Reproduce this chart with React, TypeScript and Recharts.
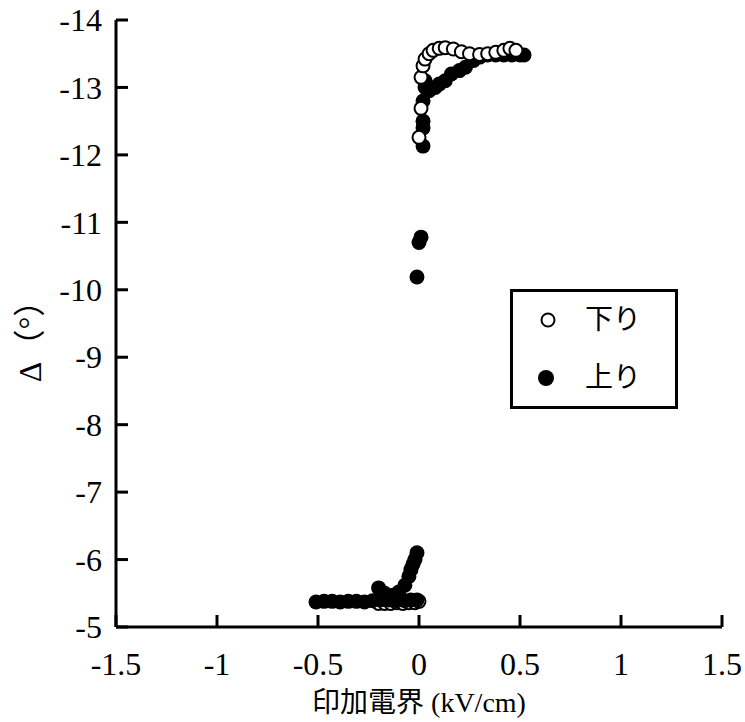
import {
  ScatterChart,
  Scatter,
  XAxis,
  YAxis
} from 'recharts'

// 下り (open circles), lower branch near -5.4
const downLowX = [-0.2, -0.17, -0.14, -0.11, -0.08, -0.05, -0.02, 0.0]
const downLowY = [-5.35, -5.35, -5.35, -5.36, -5.35, -5.36, -5.36, -5.38]

// 下り (open circles), upper branch near -13.5
const downHighX = [0.0, 0.01, 0.01, 0.02, 0.03, 0.05, 0.07, 0.1, 0.13, 0.17, 0.21, 0.25, 0.3, 0.34, 0.38, 0.42, 0.45, 0.48]
const downHighY = [-12.26, -12.69, -13.15, -13.32, -13.42, -13.5, -13.55, -13.58, -13.59, -13.57, -13.53, -13.5, -13.49, -13.5, -13.52, -13.55, -13.58, -13.55]

// 上り (filled circles)
const upX = [
  -0.51, -0.47, -0.43, -0.39, -0.35, -0.31, -0.27, -0.23, -0.19, -0.15, -0.11, -0.07, -0.04, -0.01,
  -0.2, -0.17, -0.13, -0.1,
  -0.07, -0.05, -0.04, -0.03, -0.02, -0.01,
  -0.01, 0.0, 0.01,
  0.02, 0.02, 0.02, 0.02, 0.03, 0.03, 0.05, 0.08, 0.1, 0.13, 0.16, 0.2, 0.23, 0.27, 0.3, 0.34, 0.38, 0.42, 0.46, 0.5, 0.52
]
const upY = [
  -5.37, -5.38, -5.38, -5.37, -5.38, -5.38, -5.37, -5.39, -5.4, -5.4, -5.39, -5.39, -5.4, -5.4,
  -5.58, -5.5, -5.47, -5.52,
  -5.62, -5.75, -5.85, -5.93, -6.0, -6.1,
  -10.19, -10.7, -10.78,
  -12.13, -12.4, -12.5, -12.8, -13.0, -13.1, -12.95, -13.0, -13.05, -13.1, -13.2, -13.25, -13.3, -13.4, -13.45, -13.48, -13.48, -13.48, -13.48, -13.48, -13.48
]

const xTicks = [-1.5, -1, -0.5, 0, 0.5, 1, 1.5]
const yTicks = [-14, -13, -12, -11, -10, -9, -8, -7, -6, -5]

const legendItems = [
  { label: '下り', filled: false },
  { label: '上り', filled: true }
]

const zip = (xs: number[], ys: number[]) => xs.map((x, i) => ({ x, y: ys[i] }))

const downLow = zip(downLowX, downLowY)
const downHigh = zip(downHighX, downHighY)
const up = zip(upX, upY)

const font = '"Liberation Serif", "Noto Sans CJK JP", serif'
const tickFont = 32
const tickLen = 12
const yGap = 14
const xGap = 24

// tick label plus an inward tick mark
const LeftTick = (props: any) => {
  const { x, y, payload } = props
  const axisX = x + yGap
  return (
    <g>
      <line x1={axisX} x2={axisX + tickLen} y1={y} y2={y} stroke="#000" strokeWidth={3} />
      <text x={x} y={y} dy="0.35em" textAnchor="end" fontSize={tickFont} fontFamily={font} fill="#000">
        {payload.value}
      </text>
    </g>
  )
}

const BottomTick = (props: any) => {
  const { x, y, payload } = props
  const axisY = y - xGap
  return (
    <g>
      <line x1={x} x2={x} y1={axisY} y2={axisY - tickLen} stroke="#000" strokeWidth={3} />
      <text x={x} y={y} dy="0.75em" textAnchor="middle" fontSize={tickFont} fontFamily={font} fill="#000">
        {payload.value}
      </text>
    </g>
  )
}

const YLabel = (props: any) => {
  const { viewBox } = props
  const cx = viewBox.x - 26
  const cy = viewBox.y + viewBox.height / 2 + 10
  return (
    <text
      x={cx}
      y={cy}
      transform={`rotate(-90, ${cx}, ${cy})`}
      textAnchor="middle"
      dominantBaseline="central"
      fontSize={32}
      fontFamily={font}
      fill="#000"
    >
      Δ（°）
    </text>
  )
}

const OpenDot = (props: any) => (
  <circle cx={props.cx} cy={props.cy} r={6.5} fill="#fff" stroke="#000" strokeWidth={2} />
)

const FilledDot = (props: any) => (
  <circle cx={props.cx} cy={props.cy} r={7.5} fill="#000" />
)

const LegendBox = () => (
  <div
    style={{
      position: 'absolute',
      left: 510,
      top: 289,
      width: 168,
      height: 120,
      boxSizing: 'border-box',
      border: '3px solid #000',
      background: '#fff',
      fontFamily: font,
      fontSize: 28
    }}
  >
    {legendItems.map((item, i) => (
      <div
        key={item.label}
        style={{ position: 'absolute', left: 0, top: 12 + i * 58, height: 32, display: 'flex', alignItems: 'center' }}
      >
        <svg width={70} height={32}>
          {item.filled ? (
            <circle cx={33} cy={16} r={8} fill="#000" />
          ) : (
            <circle cx={35} cy={16} r={6.5} fill="#fff" stroke="#000" strokeWidth={2} />
          )}
        </svg>
        <span style={{ marginLeft: 2, lineHeight: '32px' }}>{item.label}</span>
      </div>
    ))}
  </div>
)

export default function App() {
  return (
    <div style={{ position: 'absolute', left: 0, top: 0, width: 745, height: 722, background: '#fff' }}>
      <ScatterChart
        width={745}
        height={722}
        margin={{ top: 20, right: 23, left: 56, bottom: 35 }}
      >
        <XAxis
          xAxisId="bottom"
          type="number"
          dataKey="x"
          domain={[-1.5, 1.5]}
          ticks={xTicks}
          stroke="#000"
          strokeWidth={3}
          tickLine={false}
          tickSize={0}
          tickMargin={xGap}
          height={60}
          tick={<BottomTick />}
          label={{
            value: '印加電界 (kV/cm)',
            position: 'insideBottom',
            offset: -25,
            fill: '#000',
            fontSize: 28,
            fontFamily: font
          }}
        />
        <XAxis
          xAxisId="top"
          orientation="top"
          type="number"
          dataKey="x"
          domain={[-1.5, 1.5]}
          stroke="#000"
          strokeWidth={3}
          tick={false}
          tickLine={false}
          height={0}
        />
        <YAxis
          yAxisId="left"
          type="number"
          dataKey="y"
          domain={[-14, -5]}
          reversed
          ticks={yTicks}
          stroke="#000"
          strokeWidth={3}
          tickLine={false}
          tickSize={0}
          tickMargin={yGap}
          width={60}
          tick={<LeftTick />}
          label={<YLabel />}
        />
        <YAxis
          yAxisId="right"
          orientation="right"
          type="number"
          dataKey="y"
          domain={[-14, -5]}
          reversed
          stroke="#000"
          strokeWidth={3}
          tick={false}
          tickLine={false}
          width={0}
        />
        <Scatter
          name="下り"
          data={downLow}
          xAxisId="bottom"
          yAxisId="left"
          shape={OpenDot}
          isAnimationActive={false}
        />
        <Scatter
          name="上り"
          data={up}
          xAxisId="bottom"
          yAxisId="left"
          shape={FilledDot}
          isAnimationActive={false}
        />
        <Scatter
          name="下り (上側)"
          data={downHigh}
          xAxisId="bottom"
          yAxisId="left"
          shape={OpenDot}
          isAnimationActive={false}
        />
      </ScatterChart>
      <LegendBox />
    </div>
  )
}
